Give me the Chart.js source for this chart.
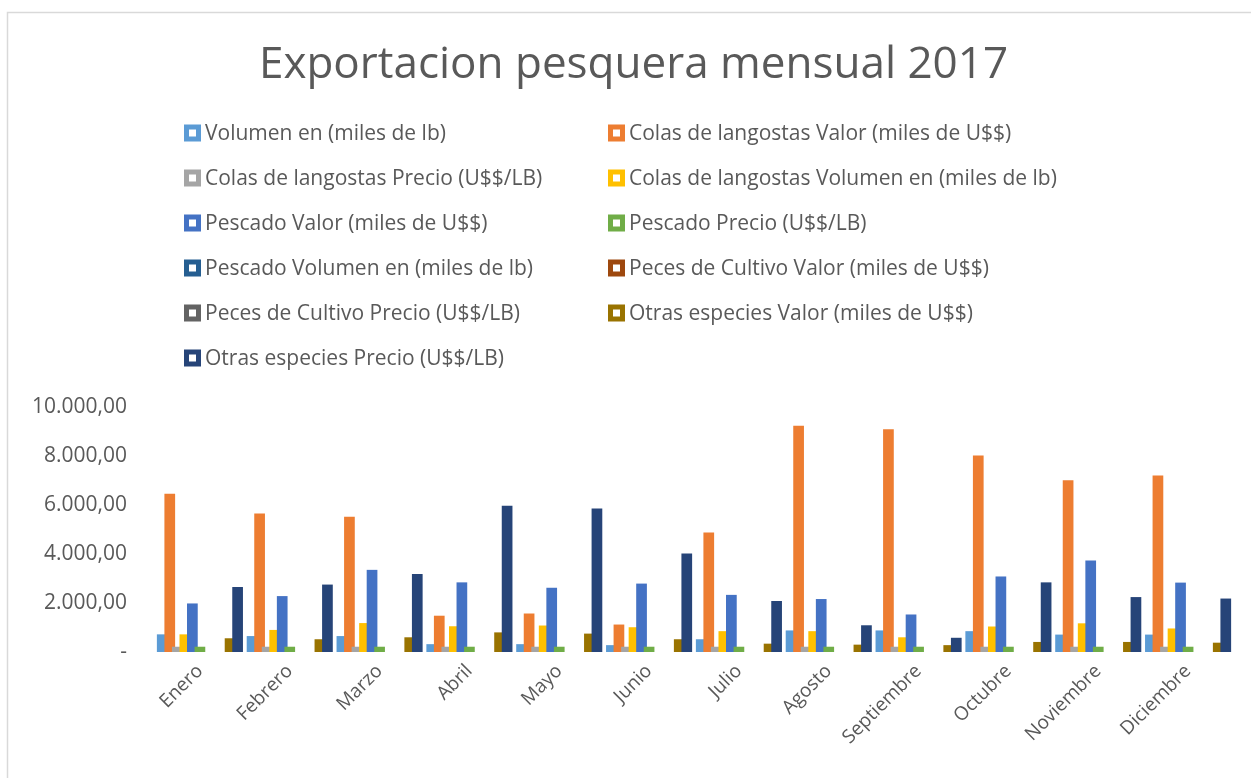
<!DOCTYPE html>
<html>
<head>
<meta charset="utf-8">
<title>Exportacion pesquera mensual 2017</title>
<script src="https://cdn.jsdelivr.net/npm/chart.js@4/dist/chart.umd.min.js"></script>
<style>
    html, body { margin: 0; padding: 0; background: #fff; }
    #wrap { width: 1251px; height: 778px; }
</style>
</head>
<body>
<div id="wrap"><canvas id="exportChart" width="1251" height="778"></canvas></div>
<script>
const months = ['Enero', 'Febrero', 'Marzo', 'Abril', 'Mayo', 'Junio', 'Julio',
    'Agosto', 'Septiembre', 'Octubre', 'Noviembre', 'Diciembre'];

const seriesNames = [
    'Volumen en (miles de lb)',
    'Colas de langostas Valor (miles de U$$)',
    'Colas de langostas Precio (U$$/LB)',
    'Colas de langostas Volumen en (miles de lb)',
    'Pescado Valor (miles de U$$)',
    'Pescado Precio (U$$/LB)',
    'Pescado Volumen en (miles de lb)',
    'Peces de Cultivo Valor (miles de U$$)',
    'Peces de Cultivo Precio (U$$/LB)',
    'Otras especies Valor (miles de U$$)',
    'Otras especies Precio (U$$/LB)',
];

const volumen = [720, 650, 650, 320, 320, 280, 520, 880, 880, 850, 710, 710];
const colasValor = [6450, 5650, 5520, 1480, 1570, 1120, 4870, 9230, 9080, 8010, 7000, 7200];
const colasPrecio = [215, 215, 215, 215, 215, 215, 215, 215, 215, 215, 215, 215];
const colasVolumen = [720, 900, 1180, 1050, 1080, 1010, 850, 850, 600, 1040, 1170, 960];
const pescadoValor = [1980, 2280, 3350, 2840, 2620, 2790, 2330, 2160, 1530, 3080, 3730, 2830];
const pescadoPrecio = [215, 215, 215, 215, 215, 215, 215, 215, 215, 215, 215, 215];
const pescadoVolumen = [0, 0, 0, 0, 0, 0, 0, 0, 0, 0, 0, 0];
const pecesValor = [0, 0, 0, 0, 0, 0, 0, 0, 0, 0, 0, 0];
const pecesPrecio = [0, 0, 0, 0, 0, 0, 0, 0, 0, 0, 0, 0];
const otrasValor = [560, 520, 600, 800, 750, 520, 340, 300, 280, 410, 410, 380];
const otrasPrecio = [2650, 2750, 3180, 5960, 5850, 4020, 2080, 1090, 580, 2840, 2240, 2180];

const yTicks = [0, 2000, 4000, 6000, 8000, 10000];
const yTickLabels = ['-', '2.000,00', '4.000,00', '6.000,00', '8.000,00', '10.000,00'];

const seriesValues = [volumen, colasValor, colasPrecio, colasVolumen, pescadoValor, pescadoPrecio,
    pescadoVolumen, pecesValor, pecesPrecio, otrasValor, otrasPrecio];
const seriesColors = ['#5B9BD5', '#ED7D31', '#A5A5A5', '#FFC000', '#4472C4', '#70AD47',
    '#255E91', '#9E480E', '#636363', '#997300', '#264478'];

const textColor = '#595959';
const fontFamily = '"Open Sans", "Liberation Sans", sans-serif';

// white page + the thin grey chart frame
const framePlugin = {
    id: 'frame',
    beforeDraw(chart) {
        const ctx = chart.ctx;
        ctx.save();
        ctx.fillStyle = '#fff';
        ctx.fillRect(0, 0, chart.width, chart.height);
        ctx.strokeStyle = '#d9d9d9';
        ctx.lineWidth = 1.5;
        ctx.beginPath();
        ctx.moveTo(7.5, chart.height);
        ctx.lineTo(7.5, 12.5);
        ctx.lineTo(chart.width, 12.5);
        ctx.stroke();
        ctx.restore();
    },
};

// later series on top, like the spreadsheet overlap
const drawOrderPlugin = {
    id: 'drawOrder',
    beforeDatasetsDraw(chart) {
        chart.getSortedVisibleDatasetMetas().forEach((meta) => meta.controller.draw());
        return false;
    },
};

// legend in two aligned columns
const legendPlugin = {
    id: 'twoColumnLegend',
    afterDraw(chart) {
        const ctx = chart.ctx;
        ctx.save();
        ctx.font = '21px ' + fontFamily;
        ctx.textBaseline = 'middle';
        chart.data.datasets.forEach((ds, i) => {
            const x = i % 2 === 0 ? 184 : 608;
            const y = 133 + Math.floor(i / 2) * 45;
            ctx.fillStyle = ds.backgroundColor;
            ctx.fillRect(x, y - 8.5, 17, 17);
            ctx.fillStyle = '#fff';
            ctx.fillRect(x + 5, y - 3.5, 7, 7);
            ctx.fillStyle = textColor;
            ctx.fillText(ds.label, x + 21, y + 1);
        });
        ctx.restore();
    },
};

const datasets = seriesNames.map((name, i) => ({
    label: name,
    data: seriesValues[i],
    backgroundColor: seriesColors[i],
    borderWidth: 0,
}));

new Chart(document.getElementById('exportChart'), {
    type: 'bar',
    data: { labels: months, datasets },
    options: {
        responsive: false,
        animation: false,
        devicePixelRatio: 1,
        categoryPercentage: 0.923,
        barPercentage: 1.42,
        layout: { padding: { left: 34, right: 18, top: 0, bottom: 0 } },
        scales: {
            x: {
                grid: { display: false, drawTicks: false },
                border: { display: false },
                ticks: {
                    color: textColor,
                    font: { family: fontFamily, size: 19 },
                    minRotation: 45,
                    maxRotation: 45,
                    padding: 8,
                },
                afterFit(scale) { scale.height = 126; },
            },
            y: {
                min: 0,
                max: 10000,
                grid: { display: false, drawTicks: false },
                border: { display: false },
                afterBuildTicks(scale) { scale.ticks = yTicks.map((v) => ({ value: v })); },
                ticks: {
                    color: textColor,
                    font: { family: fontFamily, size: 21 },
                    padding: 28,
                    callback: (value) => yTickLabels[yTicks.indexOf(value)],
                },
                afterFit(scale) { scale.width = 121; },
            },
        },
        plugins: {
            legend: { display: false },
            tooltip: { enabled: false },
            title: {
                display: true,
                text: 'Exportacion pesquera mensual 2017',
                color: textColor,
                font: { family: fontFamily, size: 44, weight: 'normal' },
                padding: { top: 39, bottom: 315 },
            },
        },
    },
    plugins: [framePlugin, drawOrderPlugin, legendPlugin],
});
</script>
</body>
</html>
